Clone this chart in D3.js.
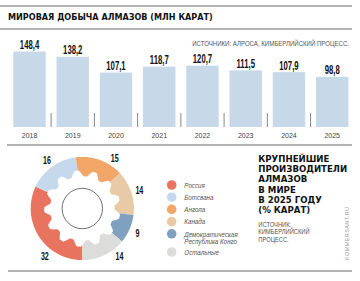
<!DOCTYPE html>
<html><head><meta charset="utf-8">
<script src="https://cdn.jsdelivr.net/npm/d3@7"></script>
<style>html,body{margin:0;padding:0;background:#fff;} svg{display:block}</style>
</head><body>
<svg id="c" width="360" height="281"></svg>
<script>
const years = ["2018","2019","2020","2021","2022","2023","2024","2025"];
const production = [148.4,138.2,107.1,118.7,120.7,111.5,107.9,98.8];
const productionLabels = ["148,4","138,2","107,1","118,7","120,7","111,5","107,9","98,8"];
const producers = ["Россия","Ботсвана","Ангола","Канада","Демократическая Республика Конго","Остальные"];
const shares = [32,16,15,14,9,14];
const legendLines = [["Россия"],["Ботсвана"],["Ангола"],["Канада"],["Демократическая","Республика Конго"],["Остальные"]];
const titleText = "МИРОВАЯ ДОБЫЧА АЛМАЗОВ (МЛН КАРАТ)";
const source1 = "ИСТОЧНИКИ: АЛРОСА, КИМБЕРЛИЙСКИЙ ПРОЦЕСС.";
const title2 = ["КРУПНЕЙШИЕ","ПРОИЗВОДИТЕЛИ","АЛМАЗОВ","В МИРЕ","В 2025 ГОДУ","(% КАРАТ)"];
const source2 = ["ИСТОЧНИК:","КИМБЕРЛИЙСКИЙ","ПРОЦЕСС."];

const colors = ["#e8735f","#c6d9ec","#f2a769","#e9caa6","#7fa0be","#dcdcda"];
const barColor = "#c7d8e9";
const svg = d3.select("#c");
const SANS = "'Liberation Sans', Arial, sans-serif";
const HEAVY = "'DejaVu Sans', sans-serif";

function condText(g, txt, x, y, size, sx, opts = {}) {
  return g.append("text")
    .attr("transform", `translate(${x},${y}) scale(${sx},1)`)
    .attr("text-anchor", opts.anchor || "start")
    .attr("font-family", opts.family || SANS)
    .attr("font-size", size)
    .attr("font-weight", opts.weight || "normal")
    .attr("font-style", opts.style || "normal")
    .attr("fill", opts.fill || "#111")
    .text(txt);
}
function fitText(g, txt, x, y, size, width, opts = {}) {
  const t = condText(g, txt, x, y, size, 1, opts);
  const w = t.node().getComputedTextLength();
  t.attr("transform", `translate(${x},${y}) scale(${width / w},1)`);
  return t;
}

// frame lines
const lineColor = "#9a9a9a";
[[0,352,6],[0,352,29],[7,352,145],[8,352,271]].forEach(([x1,x2,y]) =>
  svg.append("line").attr("x1",x1).attr("x2",x2).attr("y1",y).attr("y2",y)
    .attr("stroke",lineColor).attr("stroke-width",1.3));

fitText(svg, titleText, 8, 20.3, 8.6, 205, {family:HEAVY, weight:"bold"});
fitText(svg, source1, 349, 45.6, 7, 157, {anchor:"end", fill:"#555"});

// bar chart
const x = d3.scaleBand().domain(years).range([13.3, 348.4]).paddingInner(0.25).paddingOuter(0);
const y = d3.scaleLinear().domain([0, 148.4]).range([127, 51.6]);

svg.append("g").selectAll("rect").data(production).join("rect")
  .attr("x",(d,i)=>x(years[i])).attr("width",x.bandwidth())
  .attr("y",d=>y(d)).attr("height",d=>y(0)-y(d)).attr("fill",barColor);

const gap = x.step()*x.paddingInner();
svg.append("g").selectAll("line").data(years.slice(1)).join("line")
  .attr("x1",d=>x(d)-gap/2).attr("x2",d=>x(d)-gap/2)
  .attr("y1",113).attr("y2",127).attr("stroke","#888").attr("stroke-width",1);

const vl = svg.append("g");
production.forEach((v,i)=>{
  condText(vl, productionLabels[i], x(years[i])+x.bandwidth()/2, y(v)-2.5, 12.5, 0.62,
    {anchor:"middle", weight:"bold"});
});

const ax = svg.append("g").attr("transform","translate(0,127)")
  .call(d3.axisBottom(x).tickSize(0).tickPadding(6.5));
ax.select(".domain").remove();
ax.selectAll("text").attr("font-family",SANS).attr("font-size",7).attr("fill","#444");

// donut with gear-like inner edge
const cx = 82.3, cy = 208.5, R = 51.6;
const pie = d3.pie().sort(null).startAngle(Math.PI).endAngle(3*Math.PI).value(d=>d);
const arcs = pie(shares);
const N = 13;
function rin(a){ const s = Math.max(-1, Math.min(1, 1.3*Math.sin(N*a + 0.4))); return 35.2 - 3.0*s; }
function slicePath(a0, a1){
  const pts = [];
  const n = Math.max(8, Math.ceil((a1-a0)/0.01));
  for(let k=0;k<=n;k++){ const a=a0+(a1-a0)*k/n; pts.push([Math.sin(a)*R, -Math.cos(a)*R]); }
  for(let k=n;k>=0;k--){ const a=a0+(a1-a0)*k/n; const r=rin(a); pts.push([Math.sin(a)*r, -Math.cos(a)*r]); }
  return d3.line()(pts) + "Z";
}
const dg = svg.append("g").attr("transform",`translate(${cx},${cy})`);
dg.selectAll("path").data(arcs).join("path")
  .attr("d",d=>slicePath(d.startAngle,d.endAngle))
  .attr("fill",(d,i)=>colors[i]);
dg.append("circle").attr("r",20.2).attr("fill","none").attr("stroke","#333").attr("stroke-width",0.7);

const labelNudge = [-19, 0, 13, 0, 0, -13];
arcs.forEach((d,i)=>{
  const a = (d.startAngle+d.endAngle)/2 + labelNudge[i]*Math.PI/180;
  const lr = 60;
  condText(dg, String(d.data), Math.sin(a)*lr, -Math.cos(a)*lr + 4.2, 11.5, 0.62,
    {anchor:"middle", weight:"bold"});
});

// legend
const lg = svg.append("g");
let ly = 185;
legendLines.forEach((lines,i)=>{
  lg.append("circle").attr("cx",171.7).attr("cy",ly).attr("r",4.8).attr("fill",colors[i]);
  lines.forEach((t,j)=>{
    condText(lg, t, 184.3, ly+2.7+j*7.9, 7.8, 0.8, {style:"italic", fill:"#555"});
  });
  ly += 12.2 + (lines.length-1)*6;
});

// right title
const tg = svg.append("g");
title2.forEach((t,i)=>{
  tg.append("text").attr("x",258.3).attr("y",161.7+i*10.3)
    .attr("font-family",HEAVY).attr("font-weight","bold").attr("font-size",8.6)
    .attr("fill","#111").text(t);
});
source2.forEach((t,i)=>{
  condText(tg, t, 258.3, 226.8+i*7.5, 6.8, 0.85, {fill:"#555"});
});

svg.append("text").attr("transform","translate(349,260) rotate(-90)")
  .attr("font-family",SANS).attr("font-size",5.5).attr("fill","#999")
  .attr("letter-spacing",0.4).text("KOMMERSANT.RU");
</script>
</body></html>
